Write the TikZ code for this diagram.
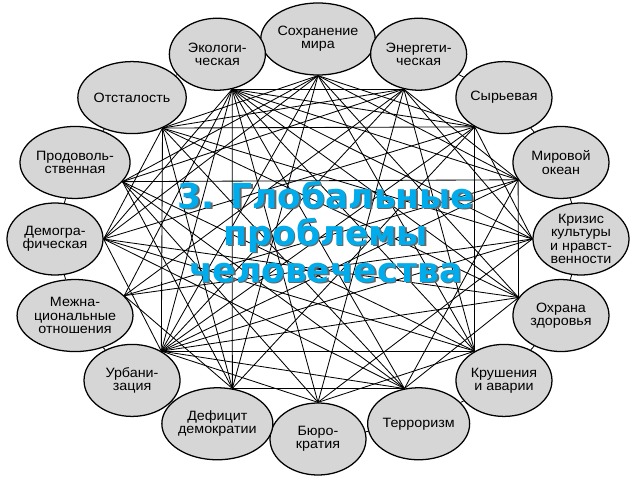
\documentclass[tikz,border=0pt]{standalone}
\usepackage{fontspec}
\setmainfont[FakeStretch=1.06]{Liberation Sans}
\newfontfamily\titlefont{DejaVu Sans}
\usetikzlibrary{shapes.geometric}
\definecolor{ellfill}{RGB}{214,214,214}
\definecolor{titleblue}{RGB}{0,172,236}
\pgfdeclarelayer{bg}
\pgfsetlayers{bg,main}
\begin{document}
\begin{tikzpicture}[x=0.025cm,y=-0.025cm,
  prob/.style={ellipse,draw=black,line width=0.9pt,fill=ellfill,
    minimum width=2.4cm,minimum height=1.8cm,inner sep=0pt,align=center,
    font=\fontsize{9.6}{9.4}\selectfont},
  link/.style={draw=black,line width=0.6pt},
  titletext/.style={font=\titlefont\bfseries\fontsize{24.5}{26.5}\selectfont,align=center}]
\useasboundingbox (0,0) rectangle (640,480);
\foreach \t [count=\i from 0] in {{Сохранение\\мира},{Энергети-\\ческая},{Сырьевая},{Мировой\\океан},
  {Кризис\\культуры\\и нравст-\\венности},{Охрана\\здоровья},{Крушения\\и аварии},{Терроризм},
  {Бюро-\\кратия},{Дефицит\\демократии},{Урбани-\\зация},{Межна-\\циональные\\отношения},
  {Демогра-\\фическая},{Продоволь-\\ственная},{Отсталость},{Экологи-\\ческая}}{
  \pgfmathsetmacro\ang{90-22.5*\i}
  \pgfmathsetmacro\hub{270-22.5*\i}
  \node[prob] (n\i) at ({318+263*cos(\ang)},{239-200*sin(\ang)}) {\t};
  \coordinate (h\i) at (n\i.\hub);
}
\begin{pgfonlayer}{bg}
\fill[white] (0,0) rectangle (640,480);
\foreach \i in {0,...,15}{
  \pgfmathtruncatemacro\k{mod(\i+1,16)}
  \draw[link] (n\i) -- (n\k);
}
\foreach \a/\b in {0/2,0/3,0/5,0/6,0/9,0/10,0/12,0/13,0/14,
  1/3,1/4,1/6,1/8,1/10,1/11,1/13,1/14,1/15,
  2/4,2/6,2/9,2/10,2/12,2/14,2/15,
  3/5,3/7,3/10,3/11,3/13,3/15,
  4/8,4/10,4/11,4/14,4/15,
  5/7,5/10,5/12,5/14,5/15,
  6/8,6/10,6/12,6/13,6/15,
  7/9,7/10,7/12,7/13,7/14,7/15,
  8/10,8/13,8/15,
  9/11,9/13,9/14,9/15,
  10/12,10/14,10/15,
  11/15,12/14,12/15}{
  \draw[link] (h\a) -- (h\b);
}
\end{pgfonlayer}
\node[titletext,text=black!60] (titleshadow) at (327.3,233.3) {3. Глобальные\\проблемы\\человечества};
\node[titletext,text=titleblue] (title) at (326,232) {3. Глобальные\\проблемы\\человечества};
\end{tikzpicture}
\end{document}
